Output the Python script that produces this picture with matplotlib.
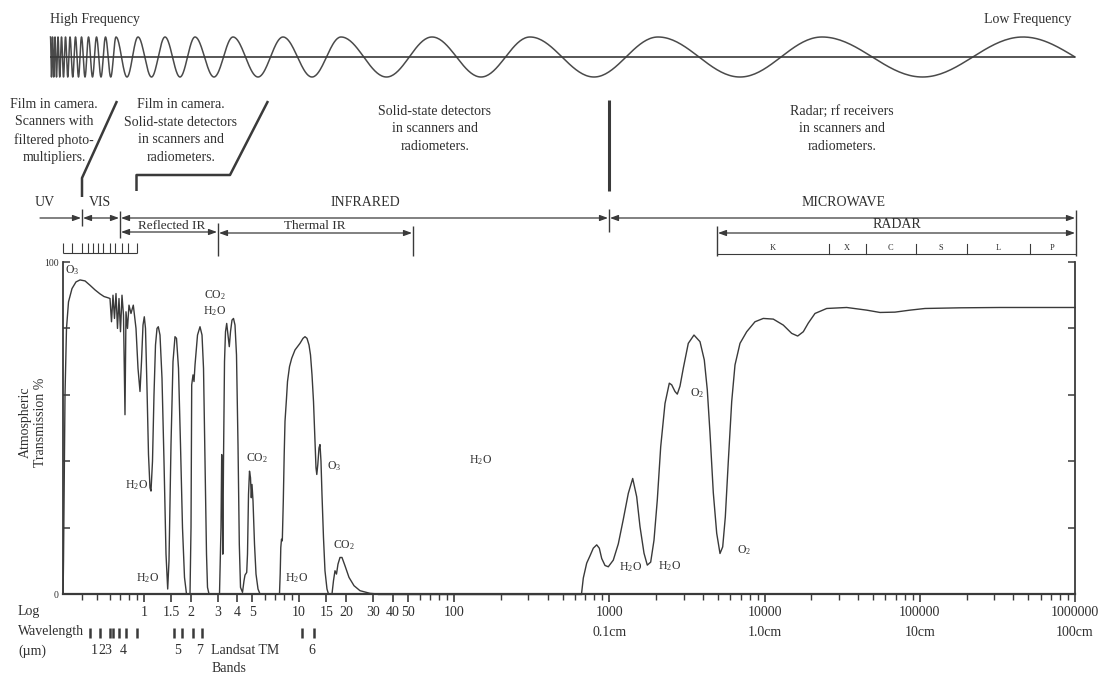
import numpy as np
import matplotlib
matplotlib.use("Agg")
import matplotlib.pyplot as plt
from matplotlib.transforms import blended_transform_factory

plt.rcParams['font.family'] = ['Liberation Serif', 'DejaVu Serif']
plt.rcParams['mathtext.fontset'] = 'custom'
plt.rcParams['mathtext.rm'] = 'Liberation Serif'
plt.rcParams['mathtext.it'] = 'Liberation Serif:italic'
plt.rcParams['mathtext.bf'] = 'Liberation Serif:bold'

# ------------------------------------------------------------------ data
# atmospheric transmission curve (wavelength in um, transmission in %)
uvnir_wl = [0.301, 0.3029, 0.3097, 0.3166, 0.3262, 0.3436, 0.3645, 0.387, 0.4168, 0.4487, 0.4833, 0.5205,
            0.5524, 0.5885, 0.6037, 0.6173, 0.6312, 0.6454, 0.66, 0.6748, 0.69, 0.7055, 0.7214, 0.7376,
            0.7542, 0.7655, 0.7828, 0.8003, 0.8245, 0.8532, 0.888, 0.9148, 0.9424, 0.9636, 0.9853, 1.0044,
            1.0225, 1.0455, 1.069, 1.093, 1.1094, 1.1344, 1.1599, 1.1861, 1.2129, 1.2365, 1.2679, 1.3062,
            1.3455, 1.3862, 1.4214, 1.4492, 1.4928, 1.5378, 1.5841, 1.6197, 1.6685, 1.7187, 1.7705, 1.8239,
            1.8789, 1.9793, 2.0091, 2.03, 2.0697, 2.1006, 2.1321, 2.2125, 2.296, 2.3652, 2.4186, 2.4728,
            2.5284, 2.5661, 2.624]
uvnir_t = [0, 10, 60, 80, 88, 92, 94, 94.6, 94.3, 93, 91.6, 90.4,
           89.6, 89.2, 89, 82, 90, 83, 90.5, 80, 89, 79, 90, 84,
           54, 85, 80, 87, 84.5, 87, 80, 68, 61, 70, 81, 83.5,
           80, 62, 42, 32, 31, 40, 60, 75, 80, 80.5, 78, 65,
           40, 12, 1.5, 10, 45, 70, 77.5, 77, 68, 45, 20, 5,
           0, 0, 20, 63, 66, 64, 69, 78, 80.5, 78, 68, 40,
           12, 2, 0]

mwir_wl = [3.066, 3.135, 3.1676, 3.1962, 3.2199, 3.2535, 3.3025, 3.3517, 3.4119, 3.4779, 3.5457, 3.61,
           3.6908, 3.774, 3.8592, 3.9458, 4.0348, 4.1137, 4.1874, 4.3137, 4.4111, 4.4766, 4.5911, 4.6454,
           4.7152, 4.7858, 4.8573, 4.9158, 4.9666, 5.0414, 5.1544, 5.2707, 5.4296, 5.5934]
mwir_t = [0, 20, 42, 30, 12, 40, 70, 79, 81.5, 78, 74.5, 79,
          82.5, 83, 81, 72, 45, 15, 2, 0.5, 4, 5.7, 6.5, 12,
          30, 37, 35, 29, 33, 28, 15, 6, 1.5, 0]

tir_wl = [7.4681, 7.5459, 7.614, 7.6932, 7.7858, 7.902, 8.0083, 8.1047, 8.2877, 8.4111, 8.6646, 8.9528,
          9.4, 10.123, 10.585, 10.904, 11.233, 11.572, 11.832, 12.099, 12.371, 12.648, 12.838, 12.99,
          13.186, 13.422, 13.622, 13.823, 14.03, 14.345, 14.668, 15.11, 15.452, 16.276, 16.641, 17.016,
          17.4, 17.792, 18.328, 18.88, 19.741, 20.952, 22.565, 24.66, 28.61, 32.215]
tir_t = [0, 6, 14, 16.5, 16, 28, 42, 52, 59, 64, 68.5, 71,
         73.5, 75.5, 77, 77.5, 77, 75, 72, 66, 58, 46, 38, 36,
         39, 44, 45, 40, 30, 17, 7, 1.5, 0, 0, 4, 7,
         6, 9, 11, 11, 8.5, 5, 2.5, 1, 0.2, 0]

micro_wl = [660.0, 677.9, 712.9, 748.7, 786.2, 827.0, 859.5, 890.7, 935.3, 982.2, 1057.8, 1139.6,
            1227.3, 1321.8, 1410.9, 1496.9, 1572.4, 1668.6, 1751.9, 1842.7, 1935.3, 2032.4, 2137.5, 2279.0,
            2428.9, 2516.5, 2642.7, 2734.6, 2846.5, 2989.2, 3219.3, 3503.3, 3830.0, 4082.4, 4268.3, 4442.9,
            4666.4, 4907.8, 5154.2, 5364.8, 5576.8, 5830.8, 6132.4, 6438.8, 6934.7, 7659.7, 8661.3, 9796.7,
            11364, 13183, 14936, 16322, 17742, 19103, 21100, 25102, 33782, 45456, 55362, 69171,
            86398, 107940, 181530, 328550, 1000000]
micro_t = [0, 4.8, 9.3, 11.5, 13.8, 14.8, 13.8, 10.7, 8.6, 8.2, 10.2, 15.1,
           22.5, 30.3, 34.8, 29.3, 20.3, 12.3, 8.7, 9.6, 16.2, 28.3, 44.3, 57.4,
           63.5, 63, 61, 60.2, 62.6, 68, 75.5, 78, 76, 70.5, 61.5, 48.5,
           30.5, 18.3, 12.2, 14.2, 23.2, 40, 58, 69, 75.5, 79, 82, 83,
           82.8, 81, 78.5, 77.7, 79, 81.6, 84.5, 86, 86.3, 85.5, 84.8, 84.9,
           85.5, 86, 86.2, 86.3, 86.3]

# x-axis tick labels
xtick_values = [1, 1.5, 2, 3, 4, 5, 10, 15, 20, 30, 40, 50, 100, 1000, 10000, 100000, 1000000]
xtick_labels = ['1', '1.5', '2', '3', '4', '5', '10', '15', '20', '30', '40', '50', '100',
                '1000', '10000', '100000', '1000000']
cm_values = [1000, 10000, 100000, 1000000]
cm_labels = ['0.1cm', '1.0cm', '10cm', '100cm']

# Landsat TM band edges and labels
tm_edges_um = [0.45, 0.52, 0.60, 0.63, 0.69, 0.76, 0.90, 1.55, 1.75, 2.08, 2.35, 10.4, 12.5]
tm_names = ['1', '2', '3', '4', '5', '7', '6']
tm_name_um = [0.475, 0.535, 0.585, 0.73, 1.655, 2.296, 11.98]

# radar bands
radar_edges_um = [4970, 25800, 45000, 93900, 201000, 513000, 1000000]
radar_names = ['K', 'X', 'C', 'S', 'L', 'P']

# absorber labels (text, wavelength um, transmission %)
absorbers = [(r'O$_3$', 0.3436, 97.5), (r'H$_2$O', 0.901, 32.8), (r'H$_2$O', 1.061, 4.8),
             (r'CO$_2$', 2.868, 90.1), (r'H$_2$O', 2.868, 85.2), (r'CO$_2$', 5.35, 41.0),
             (r'O$_3$', 16.77, 38.6), (r'CO$_2$', 19.45, 14.8), (r'H$_2$O', 9.68, 4.8),
             (r'H$_2$O', 146.4, 40.4), (r'H$_2$O', 1375, 8.1), (r'H$_2$O', 2454, 8.4),
             (r'O$_2$', 3662, 60.5), (r'O$_2$', 7357, 13.3)]

# decorative frequency wave: x positions (px) of its crests
wave_crests_px = [50.5, 52.5, 55, 58, 61.5, 65.5, 70, 75.5, 81.5, 88.5, 96.5, 105.5, 116, 138,
                  165, 195, 233, 283, 341, 432, 530, 658, 822, 1023]

# ------------------------------------------------------------------ figure
C_LINE = '#3a3a3a'
C_TXT = '#2f2f2f'
W, H = 1111, 676
FS = 10

fig = plt.figure(figsize=(W / 100, H / 100), dpi=100)
fig.patch.set_facecolor('white')

ov = fig.add_axes([0, 0, 1, 1])
ov.set_xlim(0, W)
ov.set_ylim(H, 0)
ov.axis('off')
ov.patch.set_visible(False)

ax = fig.add_axes([63 / W, 82 / H, 1012 / W, 332 / H])
ax.patch.set_alpha(0)
ax.set_xscale('log')
ax.set_xlim(10 ** (-81 / 155.17), 1e6)
ax.set_ylim(0, 100)

bt = blended_transform_factory(ax.transData, ov.transData)

# curve
for wl, tr in [(uvnir_wl, uvnir_t), (mwir_wl, mwir_t), (tir_wl, tir_t), (micro_wl, micro_t)]:
    ax.plot(wl, tr, color=C_LINE, lw=1.0, solid_joinstyle='round', clip_on=False)
ax.plot([tir_wl[-1], micro_wl[0]], [0, 0], color=C_LINE, lw=1.0, clip_on=False)

# axes styling
ax.spines['top'].set_visible(False)
ax.spines['bottom'].set_linewidth(1.6)
ax.spines['left'].set_linewidth(1.3)
ax.spines['right'].set_linewidth(1.3)
for s in ['bottom', 'left', 'right']:
    ax.spines[s].set_color(C_LINE)

ax.set_xticks(xtick_values)
ax.set_xticklabels(xtick_labels)
minor = [k * 10.0 ** e for e in range(-1, 6) for k in range(2, 10)]
minor = [m for m in minor if 0.301 < m < 1e6 and not any(abs(m - v) < 1e-9 * v for v in xtick_values)]
ax.set_xticks(minor, minor=True)
ax.xaxis.set_minor_formatter(plt.NullFormatter())
ax.tick_params(axis='x', which='major', direction='out', length=6, width=1.2, pad=3,
               labelsize=FS, colors=C_LINE, labelcolor=C_TXT)
ax.tick_params(axis='x', which='minor', direction='out', length=4, width=1.0, colors=C_LINE)

ax.set_yticks([0, 20, 40, 60, 80, 100])
ax.set_yticklabels(['0', '', '', '', '', '100'])
ax.tick_params(axis='y', which='major', direction='in', length=5, width=1.1, left=True, right=True,
               labelsize=7, pad=3, colors=C_LINE, labelcolor=C_TXT)

# absorber labels
for txt, wl, tr in absorbers:
    ax.text(wl, tr, txt, fontsize=8.5, color=C_TXT, ha='center', va='center')


def text(x, y, s, size=FS, ha='center', va='center', **kw):
    ov.text(x, y, s, fontsize=size, ha=ha, va=va, color=C_TXT, **kw)


def line(xs, ys, lw=1.0):
    ov.plot(xs, ys, color=C_LINE, lw=lw, solid_capstyle='butt')


def arrow(x0, x1, y, style='<|-|>'):
    ov.annotate('', xy=(x1, y), xytext=(x0, y), xycoords='data',
                arrowprops=dict(arrowstyle=style + ',head_length=0.6,head_width=0.22', mutation_scale=8,
                                lw=0.9, color=C_LINE, shrinkA=0, shrinkB=0))


# y label
text(33, 422, 'Atmospheric\nTransmission %', size=FS, rotation=90, linespacing=1.3)

# wave
ext = []
for a, b in zip(wave_crests_px[:-1], wave_crests_px[1:]):
    ext += [(a, 1.0), ((a + b) / 2, -1.0)]
ext.append((wave_crests_px[-1], 1.0))
wx, wy = [], []
for (x0, s0), (x1, s1) in zip(ext[:-1], ext[1:]):
    t = np.linspace(0, 1, 40)
    wx.append(x0 + (x1 - x0) * t)
    wy.append(s0 * np.cos(np.pi * t))
t = np.linspace(0, 1, 40)
wx.append(wave_crests_px[-1] + (1075 - wave_crests_px[-1]) * t)
wy.append(np.cos(np.pi / 2 * t))
wx = np.concatenate(wx)
wy = 57 - 20 * np.concatenate(wy)
ov.plot(wx, wy, color='#4a4a4a', lw=1.1)
line([50, 1075], [57, 57], lw=1.2)
text(50, 19, 'High Frequency', ha='left')
text(1072, 19, 'Low Frequency', ha='right')

# detector notes
LS = 1.45
text(54, 131, 'Film in camera.\nScanners with\nfiltered photo-\nmultipliers.', linespacing=LS)
text(181, 131, 'Film in camera.\nSolid-state detectors\nin scanners and\nradiometers.', linespacing=LS)
text(435, 129, 'Solid-state detectors\nin scanners and\nradiometers.', linespacing=LS)
text(842, 129, 'Radar; rf receivers\nin scanners and\nradiometers.', linespacing=LS)
line([117, 82, 82], [101, 178, 197], lw=1.8)
line([268, 230, 136.5, 136.5], [101, 175, 175, 191], lw=1.8)
line([609, 609], [100, 191], lw=2.2)

# spectral regions
text(45, 202, 'UV')
text(100, 202, 'VIS')
text(365, 202, 'INFRARED')
text(844, 202, 'MICROWAVE')
arrow(40, 81, 218, '-|>')
arrow(83, 119, 218)
arrow(121, 608, 218)
arrow(610, 1075, 218)
line([82, 82], [209, 226])
line([120, 120], [211, 238])
line([609, 609], [209, 232])
line([1076, 1076], [210, 256])

text(172, 226, 'Reflected IR', size=9.5)
text(315, 226, 'Thermal IR', size=9.5)
arrow(121, 217, 232)
arrow(219, 412, 233)
line([218, 218], [223, 256])
line([413, 413], [226, 256])

text(897, 225, 'RADAR')
arrow(718, 1075, 233)
line([717, 717], [226, 256])
ov.plot([radar_edges_um[0], radar_edges_um[-1]], [254, 254], color=C_LINE, lw=0.8, transform=bt)
for e in radar_edges_um[1:-1]:
    ov.plot([e, e], [244, 254], color=C_LINE, lw=0.8, transform=bt)
for a, b, n in zip(radar_edges_um[:-1], radar_edges_um[1:], radar_names):
    ov.text(np.sqrt(a * b), 248, n, fontsize=6, ha='center', va='center', color=C_TXT, transform=bt)

# small visible sub-band ruler
line([63, 137], [253, 253], lw=0.8)
for xx in [63, 72, 82, 88, 93, 98, 103, 110, 115, 122, 128, 137]:
    line([xx, xx], [243, 253], lw=0.8)

# bottom annotations
text(18, 612, 'Log', ha='left')
text(18, 632, 'Wavelength', ha='left')
text(18, 651, '(\u00b5m)', ha='left')
for v, lab in zip(cm_values, cm_labels):
    ov.text(v, 632, lab, fontsize=FS, ha='center', va='center', color=C_TXT, transform=bt)
for e in tm_edges_um:
    ov.plot([e, e], [628, 638], color=C_LINE, lw=1.8, transform=bt, solid_capstyle='butt')
for n, p in zip(tm_names, tm_name_um):
    ov.text(p, 651, n, fontsize=FS, ha='center', va='center', color=C_TXT, transform=bt)
text(245, 651, 'Landsat TM')
text(229, 669, 'Bands')

fig.savefig('out.png', dpi=100, facecolor='white')
